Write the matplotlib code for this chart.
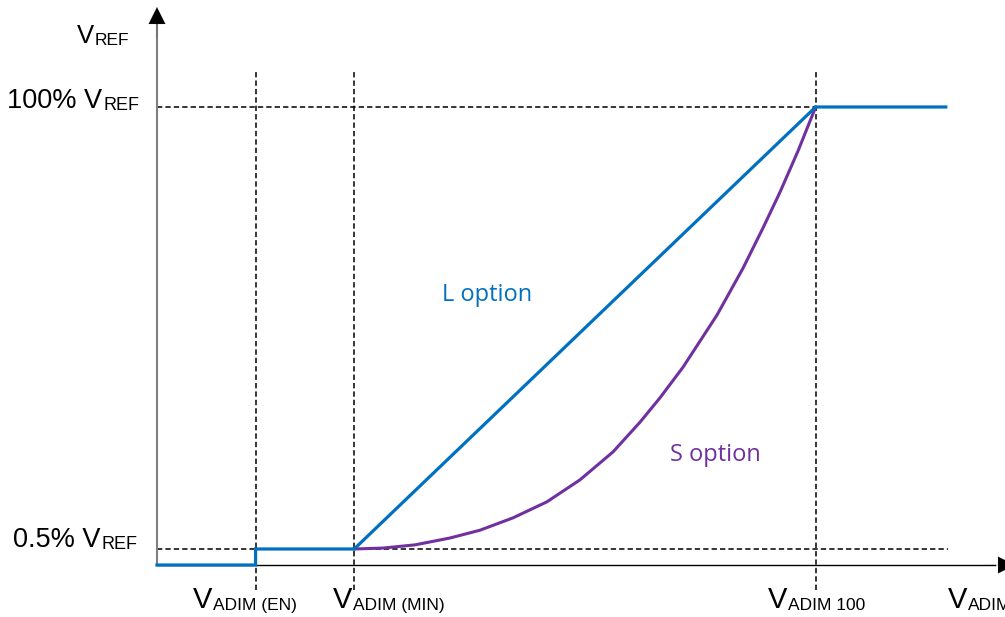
import matplotlib
matplotlib.use("Agg")
import matplotlib.pyplot as plt

plt.rcParams['font.family'] = ['Liberation Sans', 'DejaVu Sans']

# --- data (schematic units) ---
x_marks = [1.0, 2.0, 6.68]                      # V_ADIM(EN), V_ADIM(MIN), V_ADIM100
x_subs = ['ADIM (EN)', 'ADIM (MIN)', 'ADIM 100']
y_marks = [0.035, 1.0]                          # 0.5% VREF, 100% VREF
y_prefix = ['0.5% V', '100% V']

l_x = [0.0, 1.0, 1.0, 2.0, 6.68, 8.0]
l_y = [0.0, 0.0, 0.035, 0.035, 1.0, 1.0]

s_x = [2.0, 2.292, 2.617, 2.972, 3.276, 3.611, 3.955, 4.290, 4.625, 4.899,
       5.101, 5.335, 5.680, 5.943, 6.146, 6.318, 6.501, 6.68]
s_y = [0.035, 0.037, 0.044, 0.059, 0.076, 0.103, 0.138, 0.186, 0.247, 0.312,
       0.365, 0.432, 0.546, 0.648, 0.736, 0.814, 0.904, 1.0]

BLUE = '#0070C0'
PURPLE = '#7030A0'
DPI = 100

fig = plt.figure(figsize=(10.05, 6.17), dpi=DPI)
ax = fig.add_axes([0, 0, 1, 1])
ax.set_xlim(-1.592, 8.60)
ax.set_ylim(-0.1135, 1.2336)
ax.axis('off')
renderer = fig.canvas.get_renderer()

dash = dict(color='black', lw=1.1, linestyle=(0, (3.5, 2.0)))
for xm in x_marks:
    ax.plot([xm, xm], [-0.055, 1.081], **dash, zorder=1)
ax.plot([0, x_marks[2]], [y_marks[1], y_marks[1]], **dash, zorder=1)
ax.plot([0, 8.02], [y_marks[0], y_marks[0]], **dash, zorder=1)

# axes with arrows
ax.plot([0, 0], [0, 1.19], color='#7f7f7f', lw=1.5, zorder=2)
ax.annotate('', xy=(0, 1.218), xytext=(0, 1.15), annotation_clip=False,
            arrowprops=dict(arrowstyle='-|>', color='black', lw=0.1, mutation_scale=30,
                            shrinkA=0, shrinkB=0), zorder=3)
ax.plot([0, 8.5], [0, 0], color='black', lw=1.0, zorder=2)
ax.annotate('', xy=(8.70, 0), xytext=(8.4, 0), annotation_clip=False,
            arrowprops=dict(arrowstyle='-|>', color='black', lw=0.1, mutation_scale=30,
                            shrinkA=0, shrinkB=0), zorder=3)

ax.plot(l_x, l_y, color=BLUE, lw=2.3, solid_joinstyle='miter', zorder=4)
ax.plot(s_x, s_y, color=PURPLE, lw=2.2, solid_joinstyle='round', zorder=3)


def sub_label(xd, yd, main, sub, fm, fs, ha='left', dy=-1.5, gap=0.5):
    """Main text plus a smaller subscript, aligned on baseline."""
    tmp1 = ax.text(xd, yd, main, fontsize=fm)
    w1 = tmp1.get_window_extent(renderer).width * 72 / DPI
    tmp1.remove()
    tmp2 = ax.text(xd, yd, sub, fontsize=fs)
    w2 = tmp2.get_window_extent(renderer).width * 72 / DPI
    tmp2.remove()
    total = w1 + gap + w2
    shift = {'left': 0, 'center': -total / 2, 'right': -total}[ha]
    ax.annotate(main, xy=(xd, yd), xytext=(shift, 0), textcoords='offset points',
                fontsize=fm, ha='left', va='baseline', annotation_clip=False)
    ax.annotate(sub, xy=(xd, yd), xytext=(shift + w1 + gap, dy), textcoords='offset points',
                fontsize=fs, ha='left', va='baseline', annotation_clip=False)


# y-axis labels
sub_label(-0.55, 1.140, 'V', 'REF', 18.5, 12.5, ha='center')
sub_label(-0.18, 0.998, y_prefix[1], 'REF', 19.5, 13, ha='right')
sub_label(-0.20, 0.039, y_prefix[0], 'REF', 19.5, 13, ha='right')

# x-axis labels (left edges)
x_label_left = [0.365, 1.785, 6.197]
for xl, sb in zip(x_label_left, x_subs):
    sub_label(xl, -0.094, 'V', sb, 21, 12.5, ha='left')
sub_label(8.022, -0.094, 'V', 'ADIM', 21, 12.5, ha='left')

ax.text(2.89, 0.59, 'L option', fontsize=17, color=BLUE, family='Open Sans',
        ha='left', va='center')
ax.text(5.20, 0.24, 'S option', fontsize=17, color=PURPLE, family='Open Sans',
        ha='left', va='center')

fig.savefig('out.png', dpi=DPI)
